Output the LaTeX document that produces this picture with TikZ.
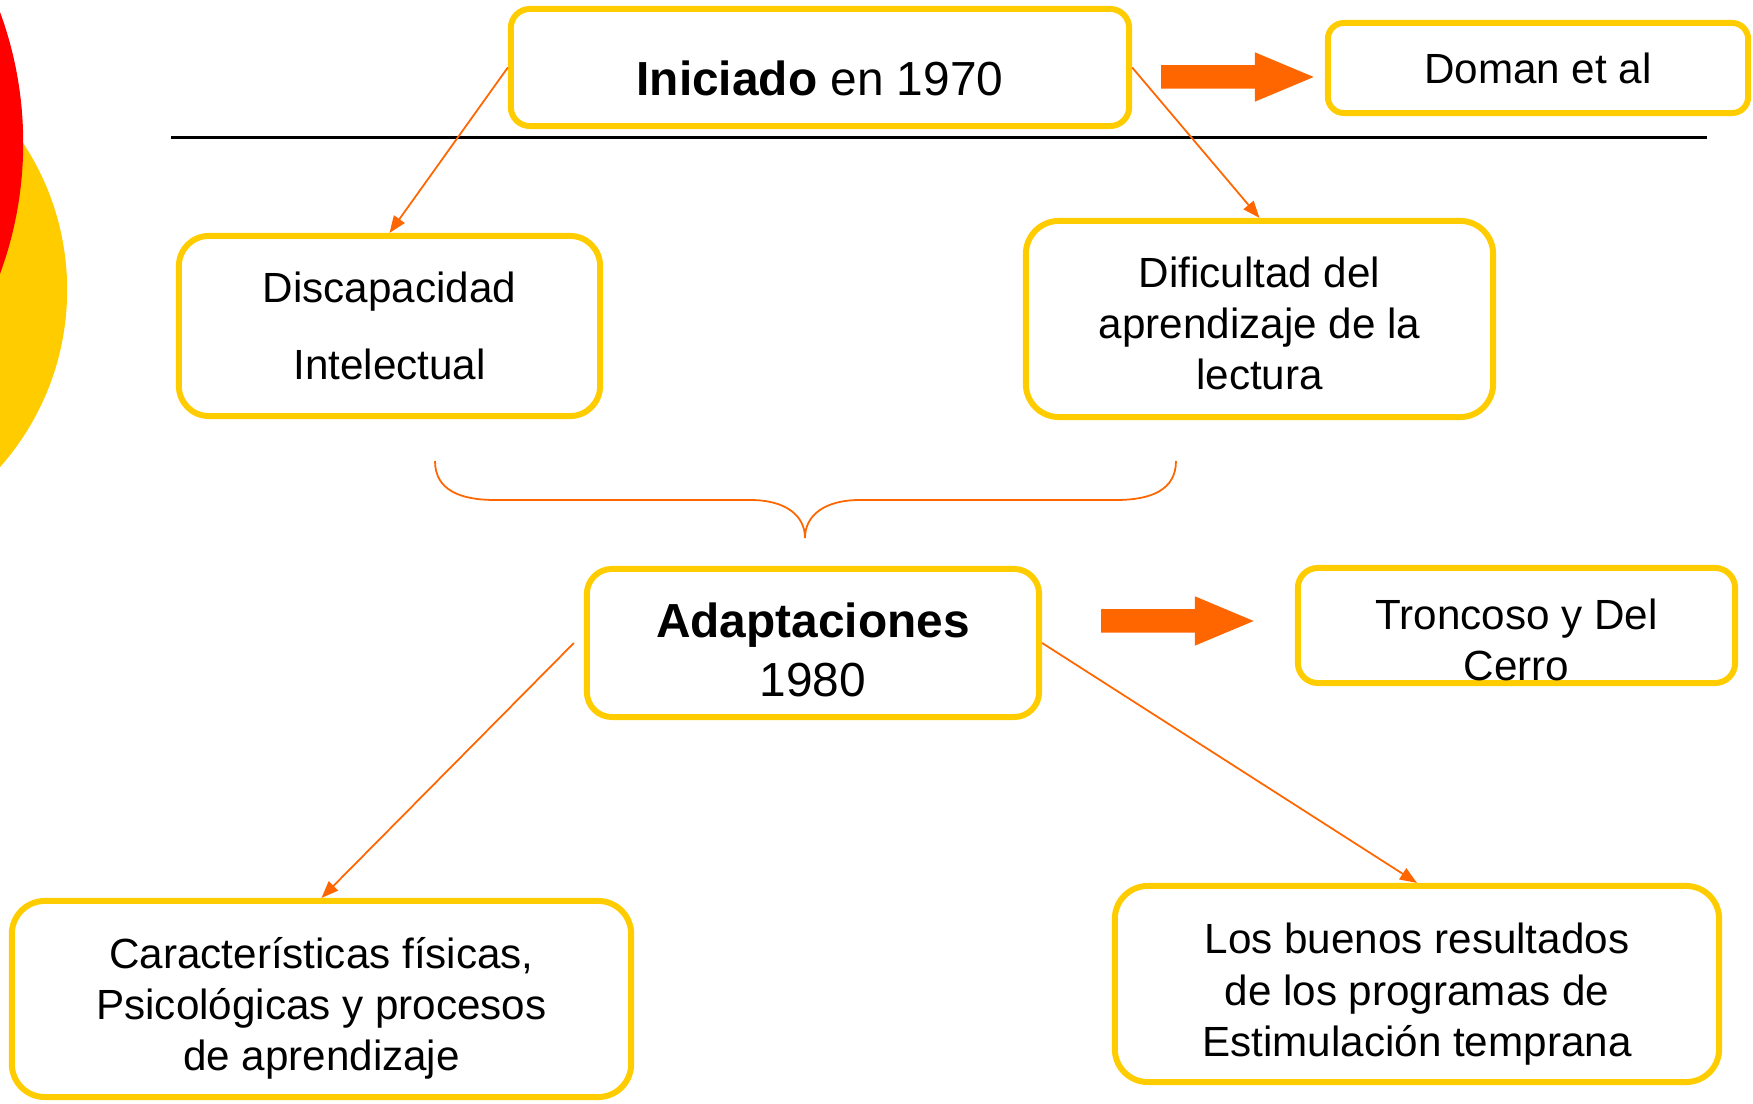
\documentclass[tikz,border=0pt]{standalone}
\usepackage{fontspec}
\setmainfont{Liberation Sans}
\usepackage{xcolor}
\usetikzlibrary{arrows.meta}
\definecolor{amarillo}{HTML}{FFCC00}
\definecolor{naranja}{HTML}{FF6600}
\definecolor{rojo}{HTML}{FF0000}
\newcommand{\bajartexto}[1]{\rule{0pt}{#1}}

\begin{document}
\begin{tikzpicture}[x=0.01cm, y=-0.01cm,
        caja/.style={draw=amarillo, line width=1.7pt, rounded corners=0.3cm, align=center, inner sep=0pt, font=\fontsize{12}{14.6}\selectfont},
        flecha/.style={draw=naranja, line width=0.5pt, -{Triangle[length=1.7mm, width=1.3mm]}},
        flechota/.style={draw=naranja, line width=0.235cm, -{Triangle[length=6.2mm, width=4.4mm]}}]
        \useasboundingbox (0,0) rectangle (1753,1104);
        \begin{scope}
            \clip (0,0) rectangle (1753,1104);
            \fill[amarillo] (-200,290) circle[radius=2.67cm];
            \fill[rojo] (-356,143) circle[radius=3.79cm];
        \end{scope}
        \draw[line width=0.6pt] (171,137.5) -- (1707,137.5);
        \node[caja, rounded corners=0.19cm, minimum width=6.18cm, minimum height=1.17cm, font=\fontsize{13.6}{16}\selectfont] (ini) at (820,67.5) {\bajartexto{15.9pt}\textbf{Iniciado} en 1970};
        \node[caja, rounded corners=0.16cm, minimum width=4.2cm, minimum height=0.9cm] (doman) at (1538,68) {Doman et al};
        \node[caja, minimum width=4.21cm, minimum height=1.8cm, font=\fontsize{12}{22}\selectfont] (disc) at (389.5,326) {Discapacidad\\Intelectual};
        \node[caja, rounded corners=0.33cm, minimum width=4.67cm, minimum height=1.96cm] (dif) at (1259.5,319) {\bajartexto{11.3pt}Dificultad del\\aprendizaje de la\\lectura};
        \node[caja, rounded corners=0.25cm, minimum width=4.52cm, minimum height=1.48cm, font=\fontsize{13.6}{16.8}\selectfont] (adap) at (813,643) {\bajartexto{13.7pt}\textbf{Adaptaciones}\\1980};
        \node[caja, rounded corners=0.2cm, minimum width=4.37cm, minimum height=1.15cm] (tron) at (1516.5,625.5) {};
        \node[align=center, inner sep=0pt, font=\fontsize{12}{14.6}\selectfont] (trontxt) at (1516.5,640) {Troncoso y Del\\Cerro};
        \node[caja, rounded corners=0.33cm, minimum width=6.19cm, minimum height=1.96cm] (carac) at (321.5,999) {\bajartexto{14.1pt}Características físicas,\\Psicológicas y procesos\\de aprendizaje};
        \node[caja, rounded corners=0.33cm, minimum width=6.04cm, minimum height=1.96cm] (buenos) at (1417,984) {\bajartexto{14.5pt}Los buenos resultados\\de los programas de\\Estimulación temprana};
        \draw[flecha] (ini.west) -- (disc.north);
        \draw[flecha] (ini.east) -- (dif.north);
        \draw[flecha] ([xshift=-0.1cm]adap.west) -- (carac.north);
        \draw[flecha] (adap.east) -- (buenos.north);
        \draw[flechota] ([shift={(0.29cm,-0.095cm)}]ini.east) -- ([shift={(-0.08cm,-0.09cm)}]doman.west);
        \draw[flechota] ([shift={(0.59cm,0.22cm)}]adap.east) -- ([shift={(-0.38cm,0.045cm)}]tron.west);
        \draw[naranja, line width=0.5pt] (435,461) .. controls (435,490) and (460,500) .. (495,500) -- (750,500) .. controls (785,500) and (805,515) .. (805,538) .. controls (805,515) and (825,500) .. (860,500) -- (1116,500) .. controls (1151,500) and (1176,490) .. (1176,461);
    \end{tikzpicture}
\end{document}
